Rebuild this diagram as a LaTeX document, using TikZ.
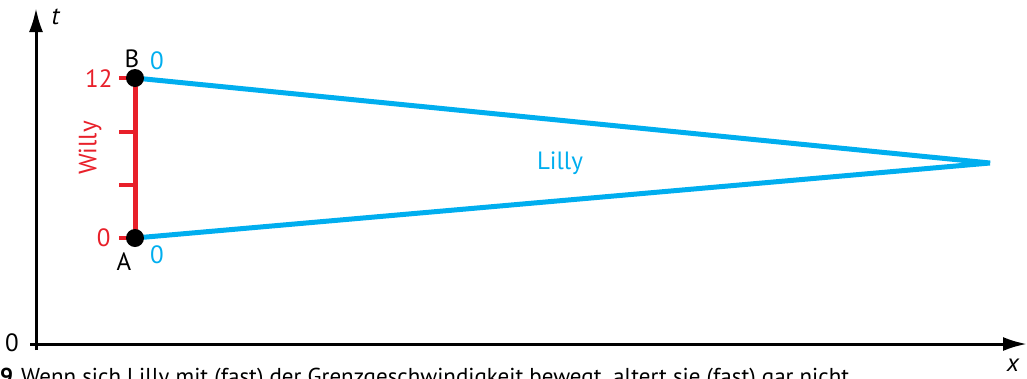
\documentclass[tikz,border=0pt]{standalone}
\usepackage{fontspec}
\setmainfont{PT Sans}
\usetikzlibrary{arrows.meta,positioning}
\definecolor{willyred}{HTML}{E8202A}
\definecolor{lillyblue}{HTML}{00AEEF}

\begin{document}
\begin{tikzpicture}[x=1pt,y=-1pt,font=\fontsize{25}{28}\selectfont]
        \useasboundingbox (0,0) rectangle (1027,378);
        % axes
        \coordinate (tend) at (36,8);
        \coordinate (xend) at (1027,344);
        \draw[line width=3pt,-{Latex[length=24pt,width=14pt]}] (30,344) -- (xend);
        \draw[line width=3pt,-{Latex[length=24pt,width=14pt]}] (36,350) -- (tend);
        \node[anchor=west,font=\fontsize{25}{28}\selectfont\itshape] at (48,17) {t};
        \node[inner sep=1pt,font=\fontsize{25}{28}\selectfont\itshape] at (1013,365) {x};
        \node at (12,343) {0};
        % Willy's worldline
        \coordinate (A) at (135,238);
        \coordinate (B) at (135,78);
        \coordinate (C) at (990,163);
        \draw[willyred,line width=5pt] (A) -- (B);
        \foreach \y in {78,132,185,238}
          \draw[willyred,line width=4pt] (119,\y) -- (135,\y);
        \node[willyred,anchor=east] at (116,79) {12};
        \node[willyred,anchor=east] at (114,238) {0};
        \node[willyred,rotate=90] at (90,148) {Willy};
        % Lilly's worldline
        \draw[lillyblue,line width=5pt,line join=miter] (A) -- (C) -- (B);
        \node[lillyblue] at (560,163) {Lilly};
        \fill (A) circle (9pt);
        \fill (B) circle (9pt);
        \node at (132,59) {B};
        \node at (124,262) {A};
        \node[lillyblue] at (157,61) {0};
        \node[lillyblue] at (157,255) {0};
        % caption
        \node[anchor=base west,inner sep=0pt,font=\fontsize{23}{26}\selectfont] at (0,384)
          {\textbf{9}\hspace{8pt}Wenn sich Lilly mit (fast) der Grenzgeschwindigkeit bewegt, altert sie (fast) gar nicht.};
      \end{tikzpicture}
\end{document}
